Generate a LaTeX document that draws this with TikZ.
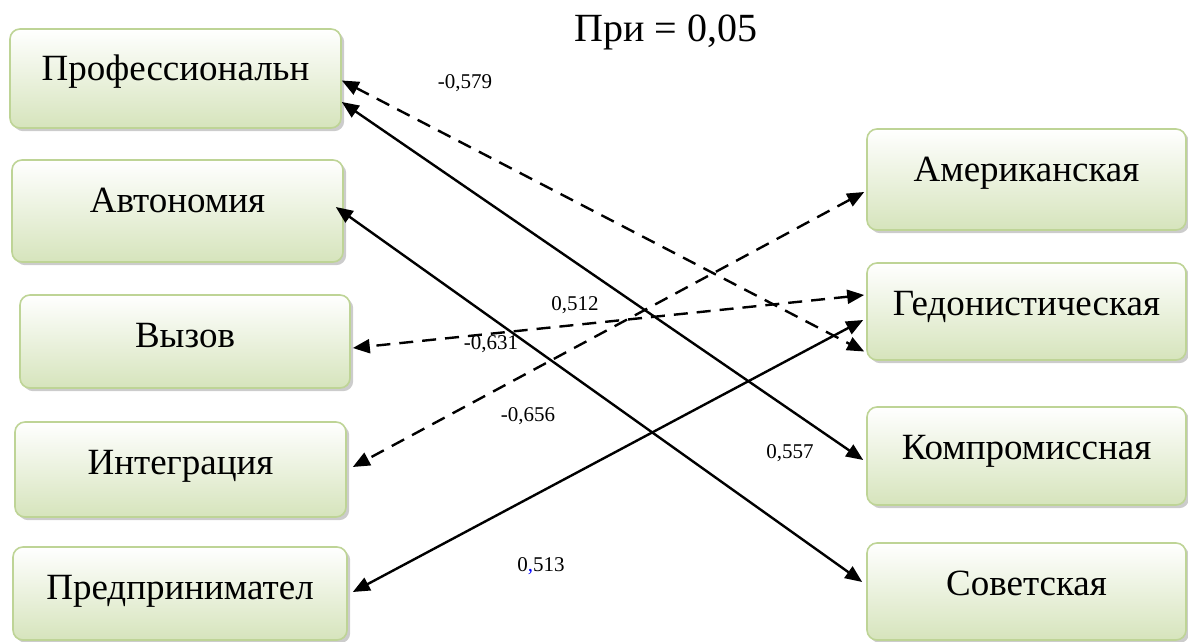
\documentclass[tikz,border=0pt]{standalone}
\usepackage{fontspec}
\setmainfont{Liberation Serif}
\usepackage{tikz}
\usetikzlibrary{arrows.meta,shadows}
\definecolor{leaf}{RGB}{190,212,150}
\definecolor{pale}{RGB}{214,228,188}
\definecolor{ink}{RGB}{0,0,0}
\tikzset{
  cbox/.style={draw=leaf,line width=0.8pt,rounded corners=5pt,top color=white,bottom color=pale,
    drop shadow={shadow xshift=1.6pt,shadow yshift=-1.6pt,fill=black!40},
    inner xsep=0pt,inner ysep=0pt,text height=26pt,font=\fontsize{18.5}{20}\selectfont},
  link/.style={{Triangle[length=8.5pt,width=7pt]}-{Triangle[length=8.5pt,width=7pt]},line width=1.2pt,ink},
  dlink/.style={link,dash pattern=on 7pt off 4.5pt},
  coef/.style={font=\fontsize{10.5}{12}\selectfont,inner sep=0pt},
}

\begin{document}
\begin{tikzpicture}[x=0.5pt,y=-0.5pt]
  \useasboundingbox (0,0) rectangle (1188,642);
  \node[font=\fontsize{20}{22}\selectfont] (title) at (666,32) {При = 0,05};
  % left column
  \node[cbox,minimum width=165.5pt,text depth=23.5pt] (prof)  at (175.5,78.5) {Профессиональн};
  \node[cbox,minimum width=165.5pt,text depth=25pt]   (avt)   at (177.5,211)  {Автономия};
  \node[cbox,minimum width=165pt,text depth=20.5pt]   (vyz)   at (185,341.5)  {Вызов};
  \node[cbox,minimum width=165.5pt,text depth=21.5pt] (integ) at (180.5,469.5) {Интеграция};
  \node[cbox,minimum width=167pt,text depth=20.5pt]   (pred)  at (180,593.5)  {Предпринимател};
  % right column
  \node[cbox,minimum width=159.5pt,text depth=24.5pt] (amer)  at (1026.5,179.5) {Американская};
  \node[cbox,minimum width=159.5pt,text depth=22.5pt] (gedon) at (1026.5,311.5) {Гедонистическая};
  \node[cbox,minimum width=159.5pt,text depth=23pt]   (komp)  at (1026.5,456)   {Компромиссная};
  \node[cbox,minimum width=159.5pt,text depth=22.5pt] (sov)   at (1026.5,591.5) {Советская};
  % links
  \draw[dlink] ([yshift=-1pt]prof.east) -- ([xshift=-1pt,yshift=-20pt]gedon.west);
  \draw[link] ([yshift=-11.75pt]prof.east) -- ([xshift=-1.5pt,yshift=-2pt]komp.west);
  \draw[link] ([xshift=-4pt,yshift=2pt]avt.east) -- ([xshift=-2pt,yshift=4.75pt]sov.west);
  \draw[dlink] ([xshift=-1pt,yshift=-6.25pt]amer.west) -- ([xshift=3pt,yshift=1.25pt]integ.east);
  \draw[dlink] ([xshift=-1pt,yshift=8.25pt]gedon.west) -- ([xshift=1pt,yshift=-3.25pt]vyz.east);
  \draw[link] ([xshift=-1.5pt,yshift=-4.25pt]gedon.west) -- ([xshift=2.5pt,yshift=0.75pt]pred.east);
  % coefficients
  \node[coef] (c1) at (465,83)  {-0,579};
  \node[coef] (c2) at (575,305) {0,512};
  \node[coef] (c3) at (491,344) {-0,631};
  \node[coef] (c4) at (528,416) {-0,656};
  \node[coef] (c5) at (790,453) {0,557};
  \node[coef] (c6) at (541,566) {0\textcolor{blue}{,}513};
\end{tikzpicture}
\end{document}
